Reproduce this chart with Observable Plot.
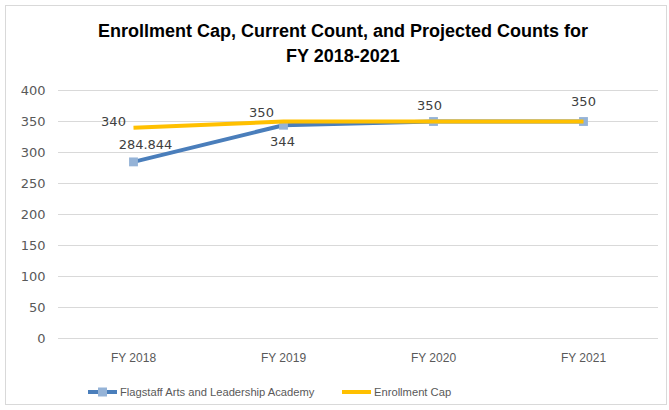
<!DOCTYPE html>
<html>
<head>
<meta charset="utf-8">
<script src="https://cdn.jsdelivr.net/npm/d3@7"></script>
<script src="https://cdn.jsdelivr.net/npm/@observablehq/plot@0.6"></script>
<style>
  body { margin: 0; background: #fff; }
  #frame { position: relative; width: 669px; height: 410px; background: #fff; overflow: hidden; }
  #border { position: absolute; left: 5px; top: 5px; width: 662px; height: 400px; border: 1px solid #d9d9d9; box-sizing: border-box; }
  #title { position: absolute; left: 0; width: 686px; top: 19px; text-align: center; font-family: "Liberation Sans", Arial, sans-serif; font-weight: bold; font-size: 18px; line-height: 25px; color: #000; }
  #chart { position: absolute; left: 0; top: 75px; }
  #legend { position: absolute; top: 383px; left: 0; width: 669px; height: 18px; font-family: "Liberation Sans", Arial, sans-serif; font-size: 11.2px; color: #595959; }
  .li { position: absolute; top: 0; display: flex; align-items: center; height: 18px; }
  .li svg { margin-right: 3px; }
</style>
</head>
<body>
<div id="frame">
  <div id="border"></div>
  <div id="title">Enrollment Cap, Current Count, and Projected Counts for<br>FY 2018-2021</div>
  <div id="chart"></div>
  <div id="legend"></div>
</div>
<script>
const categories = ["FY 2018", "FY 2019", "FY 2020", "FY 2021"];
const flagstaff = [284.844, 344, 350, 350];
const enrollmentCap = [340, 350, 350, 350];
const yTicks = [0, 50, 100, 150, 200, 250, 300, 350, 400];
const seriesNames = ["Flagstaff Arts and Leadership Academy", "Enrollment Cap"];
// which points carry a data label
const flagstaffLabelShown = [true, true, true, true];
const capLabelShown = [true, true, false, false];

const blue = "#4a7ebb", marker = "#95b3d7", gold = "#ffc000";

const blueData = categories.map((c, i) => ({cat: c, value: flagstaff[i], label: String(flagstaff[i]), show: flagstaffLabelShown[i], i}));
const capData = categories.map((c, i) => ({cat: c, value: enrollmentCap[i], label: String(enrollmentCap[i]), show: capLabelShown[i], i}));

// label offsets (presentation)
const blueDx = [12, -1, -4, 0], blueDy = [-17, 17, -16, -20];
const capDx = [-20, -22, 0, 0], capDy = [-6, -9, 0, 0];

const labelFont = {fontFamily: "DejaVu Sans, sans-serif", fontSize: 13, fill: "#404040"};

const chart = Plot.plot({
  width: 669,
  height: 295,
  marginTop: 15,
  marginBottom: 32,
  marginLeft: 58,
  marginRight: 11,
  style: {background: "transparent", overflow: "visible"},
  x: {type: "point", domain: categories, padding: 0.5},
  y: {domain: [0, 400]},
  marks: [
    Plot.ruleY(yTicks, {stroke: "#d9d9d9", strokeWidth: 1}),
    Plot.axisY({ticks: yTicks, tickSize: 0, tickPadding: 13, fontFamily: "DejaVu Sans, sans-serif", fontSize: 13, fill: "#595959", label: null}),
    Plot.axisX({tickSize: 0, tickPadding: 15, fontFamily: "Liberation Sans, Arial, sans-serif", fontSize: 12, fill: "#595959", label: null}),
    Plot.line(blueData, {x: "cat", y: "value", stroke: blue, strokeWidth: 4, strokeLinejoin: "round", strokeLinecap: "round"}),
    Plot.dot(blueData, {x: "cat", y: "value", symbol: "square", r: 5, fill: marker, stroke: null}),
    Plot.line(capData, {x: "cat", y: "value", stroke: gold, strokeWidth: 4, strokeLinejoin: "round", strokeLinecap: "butt"}),
    ...blueData.filter(d => d.show).map(d => Plot.text([d], {x: "cat", y: "value", text: "label", dx: blueDx[d.i], dy: blueDy[d.i], ...labelFont})),
    ...capData.filter(d => d.show).map(d => Plot.text([d], {x: "cat", y: "value", text: "label", dx: capDx[d.i], dy: capDy[d.i], ...labelFont}))
  ]
});
document.getElementById("chart").appendChild(chart);

// legend
const legend = document.getElementById("legend");
const items = [
  {name: seriesNames[0], color: blue, marker: true, left: 88},
  {name: seriesNames[1], color: gold, marker: false, left: 342}
];
for (const it of items) {
  const div = document.createElement("div");
  div.className = "li";
  div.style.left = it.left + "px";
  const svg = d3.create("svg").attr("width", 29).attr("height", 18);
  svg.append("line").attr("x1", 0).attr("x2", 29).attr("y1", 9).attr("y2", 9).attr("stroke", it.color).attr("stroke-width", 4).attr("stroke-linecap", "round");
  if (it.marker) svg.append("rect").attr("x", 10).attr("y", 4.5).attr("width", 9).attr("height", 9).attr("fill", marker);
  div.appendChild(svg.node());
  const span = document.createElement("span");
  span.textContent = it.name;
  div.appendChild(span);
  legend.appendChild(div);
}
</script>
</body>
</html>
